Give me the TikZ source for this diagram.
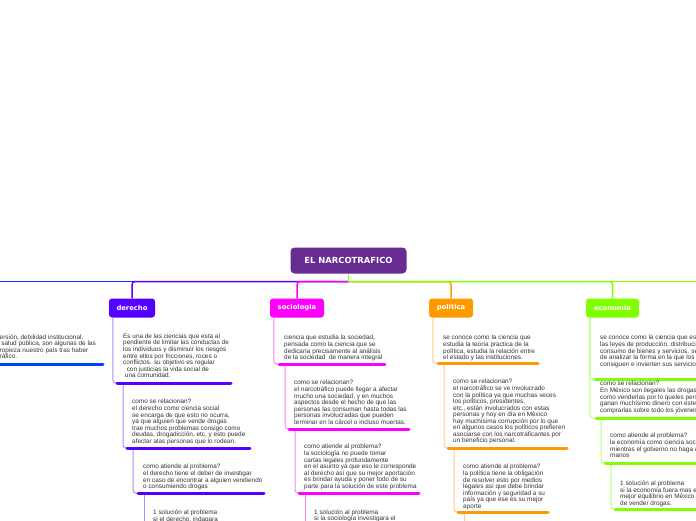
\documentclass[tikz,border=0pt]{standalone}
\usepackage{fontspec}
\setmainfont{Liberation Sans}
\newfontfamily\labelfont{DejaVu Sans}
\definecolor{RootClr}{RGB}{102,44,145}
\definecolor{LeftClr}{RGB}{0,64,255}
\definecolor{DerechoClr}{RGB}{85,0,255}
\definecolor{SocioClr}{RGB}{255,0,255}
\definecolor{PoliClr}{RGB}{255,153,0}
\definecolor{EconClr}{RGB}{128,255,0}
\definecolor{TextClr}{RGB}{51,51,51}
\colorlet{DerechoLt}{DerechoClr!45}
\colorlet{SocioLt}{SocioClr!50}
\colorlet{PoliLt}{PoliClr!50}
\colorlet{EconLt}{EconClr!55}

\begin{document}
\begin{tikzpicture}[x=1pt,y=-1pt,
  rootbox/.style={fill=RootClr,rounded corners=4pt,text=white,font=\labelfont\bfseries\fontsize{8.4}{10}\selectfont,minimum width=116pt,minimum height=26pt,inner sep=0pt},
  branchbox/.style={rounded corners=3pt,text=white,font=\labelfont\bfseries\fontsize{6.8}{8}\selectfont,minimum height=19pt,inner sep=0pt},
  rootline/.style={line width=1.5pt},
  branchlink/.style={line width=1pt,rounded corners=3pt},
  topicbar/.style={line width=3pt,line cap=round},
  txt/.style={anchor=north west,yshift=2.9pt,inner sep=0pt,align=left,text=TextClr,font=\fontsize{6.4}{6.55}\selectfont}]
\useasboundingbox (0,0) rectangle (696,520);
\fill[white] (0,0) rectangle (696,520);
\clip (0,0) rectangle (696,520);

\node[rootbox] (root) at (348.5,260.5) {EL NARCOTRAFICO};
\node[branchbox,fill=DerechoClr,minimum width=46pt] (derecho) at (132,308) {derecho};
\node[branchbox,fill=SocioClr,minimum width=54pt] (sociologia) at (297,308) {sociologia};
\node[branchbox,fill=PoliClr,minimum width=44pt] (politica) at (451,308) {politica};
\node[branchbox,fill=EconClr,minimum width=53pt] (economia) at (612.5,308) {economia};

\coordinate (hub) at (348.5,281.5);
\coordinate (lft) at (0,281.5);
\coordinate (rgt) at (696,281.5);

\draw[rootline,LeftClr] (lft) -- (hub);
\draw[rootline,DerechoClr,rounded corners=3pt] (hub) -| (derecho);
\draw[rootline,SocioClr,rounded corners=3pt] (hub) -| (sociologia);
\draw[rootline,PoliClr,rounded corners=3pt] (hub) -| (politica);
\draw[rootline,EconClr,rounded corners=3pt] (hub) -| (economia);
\draw[rootline,EconClr] (hub) -- (rgt);
\draw[rootline,EconClr] (root) -- (hub);

\coordinate (izq1-l) at (-5,364);  \coordinate (izq1-r) at (103,364);
\coordinate (der1-l) at (117,383); \coordinate (der1-r) at (231,383);
\coordinate (der2-l) at (127,448); \coordinate (der2-r) at (250,448);
\coordinate (der3-l) at (138,493); \coordinate (der3-r) at (264,493);
\coordinate (der4-e) at (144,525);
\coordinate (soc1-l) at (279,364); \coordinate (soc1-r) at (385,364);
\coordinate (soc2-l) at (289,429); \coordinate (soc2-r) at (409,429);
\coordinate (soc3-l) at (299,493); \coordinate (soc3-r) at (419,493);
\coordinate (soc4-e) at (305,525);
\coordinate (pol1-l) at (438,363); \coordinate (pol1-r) at (538,363);
\coordinate (pol2-l) at (448,448); \coordinate (pol2-r) at (567,448);
\coordinate (pol3-l) at (458,512); \coordinate (pol3-r) at (548,512);
\coordinate (pol4-e) at (464,525);
\coordinate (eco1-l) at (595,379); \coordinate (eco1-r) at (705,379);
\coordinate (eco2-l) at (596,418); \coordinate (eco2-r) at (705,418);
\coordinate (eco3-l) at (605,463); \coordinate (eco3-r) at (705,463);
\coordinate (eco4-l) at (615,509); \coordinate (eco4-r) at (705,509);

\draw[branchlink,DerechoLt] ([xshift=4pt]derecho.south west) |- (der1-l);
\draw[branchlink,DerechoLt] ([xshift=6pt]der1-l) |- (der2-l);
\draw[branchlink,DerechoLt] ([xshift=6pt]der2-l) |- (der3-l);
\draw[branchlink,DerechoLt] ([xshift=6pt]der3-l) -- (der4-e);
\draw[branchlink,SocioLt] ([xshift=4pt]sociologia.south west) |- (soc1-l);
\draw[branchlink,SocioLt] ([xshift=6pt]soc1-l) |- (soc2-l);
\draw[branchlink,SocioLt] ([xshift=6pt]soc2-l) |- (soc3-l);
\draw[branchlink,SocioLt] ([xshift=6pt]soc3-l) -- (soc4-e);
\draw[branchlink,PoliLt] ([xshift=4pt]politica.south west) |- (pol1-l);
\draw[branchlink,PoliLt] ([xshift=6pt]pol1-l) |- (pol2-l);
\draw[branchlink,PoliLt] ([xshift=6pt]pol2-l) |- (pol3-l);
\draw[branchlink,PoliLt] ([xshift=6pt]pol3-l) -- (pol4-e);
\draw[branchlink,EconLt] ([xshift=4pt]economia.south west) |- (eco1-l);
\draw[branchlink,EconLt] ([xshift=4pt]economia.south west) |- (eco2-l);
\draw[branchlink,EconLt] ([xshift=5pt]eco2-l) |- (eco3-l);
\draw[branchlink,EconLt] ([xshift=6pt]eco3-l) |- (eco4-l);

\draw[topicbar,LeftClr] (izq1-l) -- (izq1-r);
\foreach \n in {der1,der2,der3} \draw[topicbar,DerechoClr] (\n-l) -- (\n-r);
\foreach \n in {soc1,soc2,soc3} \draw[topicbar,SocioClr] (\n-l) -- (\n-r);
\foreach \n in {pol1,pol2,pol3} \draw[topicbar,PoliClr] (\n-l) -- (\n-r);
\foreach \n in {eco1,eco2,eco3,eco4} \draw[topicbar,EconClr] (\n-l) -- (\n-r);

\node[txt] (izq1) at (-0.5,337) {ersión, debilidad institucional,\\\ salud pública, son algunas de las\\ropieza nuestro país tras haber\\ráfico.};

\node[txt] (der1) at (123,336.5) {Es una de las ciencias que esta al\\pendiente de limitar las conductas de\\los individuos y disminuir los riesgos\\entre ellos por fricciones, roces o\\conflictos. su objetivo es regular\\\ \ con justicias la vida social de\\\ una comunidad.};
\node[txt] (der2) at (132,402) {como se relacionan?\\el derecho como ciencia social\\se encarga de que esto no ocurra,\\ya que alguien que vende drogas\\trae muchos problemas consigo como\\deudas, drogadicción, etc, y esto puede\\afectar alas personas que lo rodean.};
\node[txt] (der3) at (143,467) {como atiende al problema?\\el derecho tiene el deber de investigar\\en caso de encontrar a alguien vendiendo\\o consumiendo drogas};
\node[txt] (der4) at (153,512.5) {1 solución al problema\\si el derecho, indagara};

\node[txt] (soc1) at (284,338) {ciencia que estudia la sociedad,\\pensada como la ciencia que se\\dedicaría precisamente al análisis\\de la sociedad\ \ de manera integral};
\node[txt] (soc2) at (294,383) {como se relacionan?\\el narcotráfico puede llegar a afectar\\mucho una sociedad, y en muchos\\aspectos desde el hecho de que las\\personas las consuman hasta todas las\\personas involucradas que pueden\\terminar en la cárcel o incluso muertas.};
\node[txt] (soc3) at (304,447) {como atiende al problema?\\la sociología no puede tomar\\cartas legales profundamente\\en el asunto ya que eso le corresponde\\al derecho así que su mejor aportación\\es brindar ayuda y poner todo de su\\parte para la solución de este problema};
\node[txt] (soc4) at (314,512) {1 solución al problema\\si la sociología investigara el};

\node[txt] (pol1) at (443,338) {se conoce como la ciencia que\\estudia la teoría practica de la\\política, estudia la relación entre\\el estado y las instituciones.};
\node[txt] (pol2) at (453,382) {como se relacionan?\\el narcotráfico se ve involucrado\\con la política ya que muchas veces\\los políticos, presidentes,\\etc., están involucrados con estas\\personas y hoy en día en México\\hay muchísima corrupción por lo que\\en algunos casos los políticos prefieren\\asociarse con los narcotraficantes por\\un beneficio personal.};
\node[txt] (pol3) at (463,467) {como atiende al problema?\\la política tiene la obligación\\de resolver esto por medios\\legales así que debe brindar\\información y seguridad a su\\país ya que ese es su mejor\\aporte};

\node[txt] (eco1) at (600,338) {se conoce como la ciencia que estu\\las leyes de producción, distribució\\consumo de bienes y servicios. se\\de analizar la forma en la que los\\consiguen e invierten sus servicios};
\node[txt] (eco2) at (600,384) {como se relacionan?\\En México son ilegales las drogas t\\como venderlas por lo queles perso\\ganan muchísimo dinero con este\\comprarlas sobre todo los jóvenes};
\node[txt] (eco3) at (610,436) {como atiende al problema?\\la economía como ciencia socia\\mientras el gobierno no haga a\\manos};
\node[txt] (eco4) at (620,483.5) {1 solución al problema\\si la economía fuera mas ec\\mejor equilibrio en México l\\de vender drogas.};
\end{tikzpicture}
\end{document}
